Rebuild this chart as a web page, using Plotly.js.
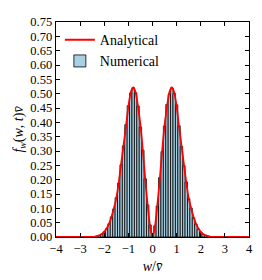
<!DOCTYPE html>
<html>
<head>
<meta charset="utf-8">
<script src="https://cdn.plot.ly/plotly-3.0.1.min.js"></script>
<style>html,body{margin:0;padding:0;background:#fff;}#chart{width:262px;height:280px;}</style>
</head>
<body>
<div id="chart"></div>
<script>
// Numerical histogram: bin centres and heights
const binCenters = [-2.5,-2.4,-2.3,-2.2,-2.1,-2.0,-1.9,-1.8,-1.7,-1.6,-1.5,-1.4,-1.3,-1.2,-1.1,-1.0,-0.9,-0.8,-0.7,-0.6,-0.5,-0.4,-0.3,-0.2,-0.1,0.0,
  0.1,0.2,0.3,0.4,0.5,0.6,0.7,0.8,0.9,1.0,1.1,1.2,1.3,1.4,1.5,1.6,1.7,1.8,1.9,2.0,2.1,2.2,2.3,2.4,2.5];
const binHeights = [0.0008,0.0015,0.003,0.006,0.011,0.018,0.029,0.046,0.07,0.098,0.137,0.188,0.252,0.318,0.392,0.458,0.502,0.521,0.503,0.457,0.383,0.303,0.203,0.112,0.042,0.008,
  0.039,0.108,0.207,0.298,0.387,0.462,0.498,0.52,0.501,0.461,0.388,0.316,0.249,0.192,0.134,0.101,0.067,0.045,0.028,0.017,0.01,0.006,0.003,0.0015,0.0007];

// Analytical curve: sample points
const curveW = [-4,-3.5,-3,-2.6,-2.5,-2.4,-2.3,-2.2,-2.1,-2.0,-1.9,-1.8,-1.7,-1.6,-1.5,-1.4,-1.3,-1.2,-1.1,-1.0,-0.9,-0.8,-0.7,-0.6,-0.5,-0.4,-0.3,-0.2,-0.1,0.0,
  0.1,0.2,0.3,0.4,0.5,0.6,0.7,0.8,0.9,1.0,1.1,1.2,1.3,1.4,1.5,1.6,1.7,1.8,1.9,2.0,2.1,2.2,2.3,2.4,2.5,2.6,3,3.5,4];
const curveF = [0,0,0,0.0003,0.0007,0.0015,0.003,0.006,0.01,0.018,0.03,0.047,0.07,0.1,0.135,0.19,0.255,0.32,0.385,0.455,0.505,0.522,0.505,0.455,0.39,0.3,0.2,0.11,0.035,0,
  0.035,0.11,0.2,0.3,0.39,0.455,0.505,0.522,0.505,0.455,0.385,0.32,0.255,0.19,0.135,0.1,0.07,0.047,0.03,0.018,0.01,0.006,0.003,0.0015,0.0007,0.0003,0,0,0];

const xTicks = [-4,-3,-2,-1,0,1,2,3,4];

const serif = 'Liberation Serif, DejaVu Serif, serif';

const traces = [
  {
    type: 'bar', x: binCenters, y: binHeights, width: 0.1,
    name: 'Numerical', legendrank: 2,
    marker: {color: '#a9d0e2', line: {color: '#000000', width: 0.8}},
    hoverinfo: 'skip'
  },
  {
    type: 'scatter', mode: 'lines', x: curveW, y: curveF,
    name: 'Analytical', legendrank: 1,
    line: {color: '#ff0000', width: 1.8, shape: 'spline', smoothing: 0.5},
    hoverinfo: 'skip'
  }
];

const axisCommon = {
  showline: true, linecolor: '#000', linewidth: 1.3, mirror: 'ticks',
  ticks: 'inside', ticklen: 4, tickwidth: 1, tickcolor: '#000',
  showgrid: false, zeroline: false,
  tickfont: {family: serif, size: 12.5, color: '#000'}
};

const layout = {
  width: 262, height: 280,
  margin: {l: 56, r: 13, t: 22, b: 43},
  paper_bgcolor: '#fff', plot_bgcolor: '#fff',
  bargap: 0,
  showlegend: true,
  legend: {x: 0.02, y: 0.99, xanchor: 'left', yanchor: 'top', bgcolor: 'rgba(0,0,0,0)',
           font: {family: serif, size: 14, color: '#000'}, itemwidth: 30, tracegroupgap: 0},
  xaxis: Object.assign({}, axisCommon, {
    range: [-4, 4], tickvals: xTicks, ticktext: xTicks.map(v => v < 0 ? '\u2212' + Math.abs(v) : String(v)),
    title: {text: '<i>w</i>/<i>v̄</i>', font: {family: serif, size: 14, color: '#000'}, standoff: 6}
  }),
  yaxis: Object.assign({}, axisCommon, {
    range: [0, 0.75], dtick: 0.05, tick0: 0, tickformat: '.2f',
    title: {text: '<i>f</i><sub><i>w</i></sub>(<i>w</i>, <i>t</i>)<i>v̄</i>', font: {family: serif, size: 14, color: '#000'}, standoff: 3}
  })
};

Plotly.newPlot('chart', traces, layout, {staticPlot: true, displayModeBar: false});
</script>
</body>
</html>
